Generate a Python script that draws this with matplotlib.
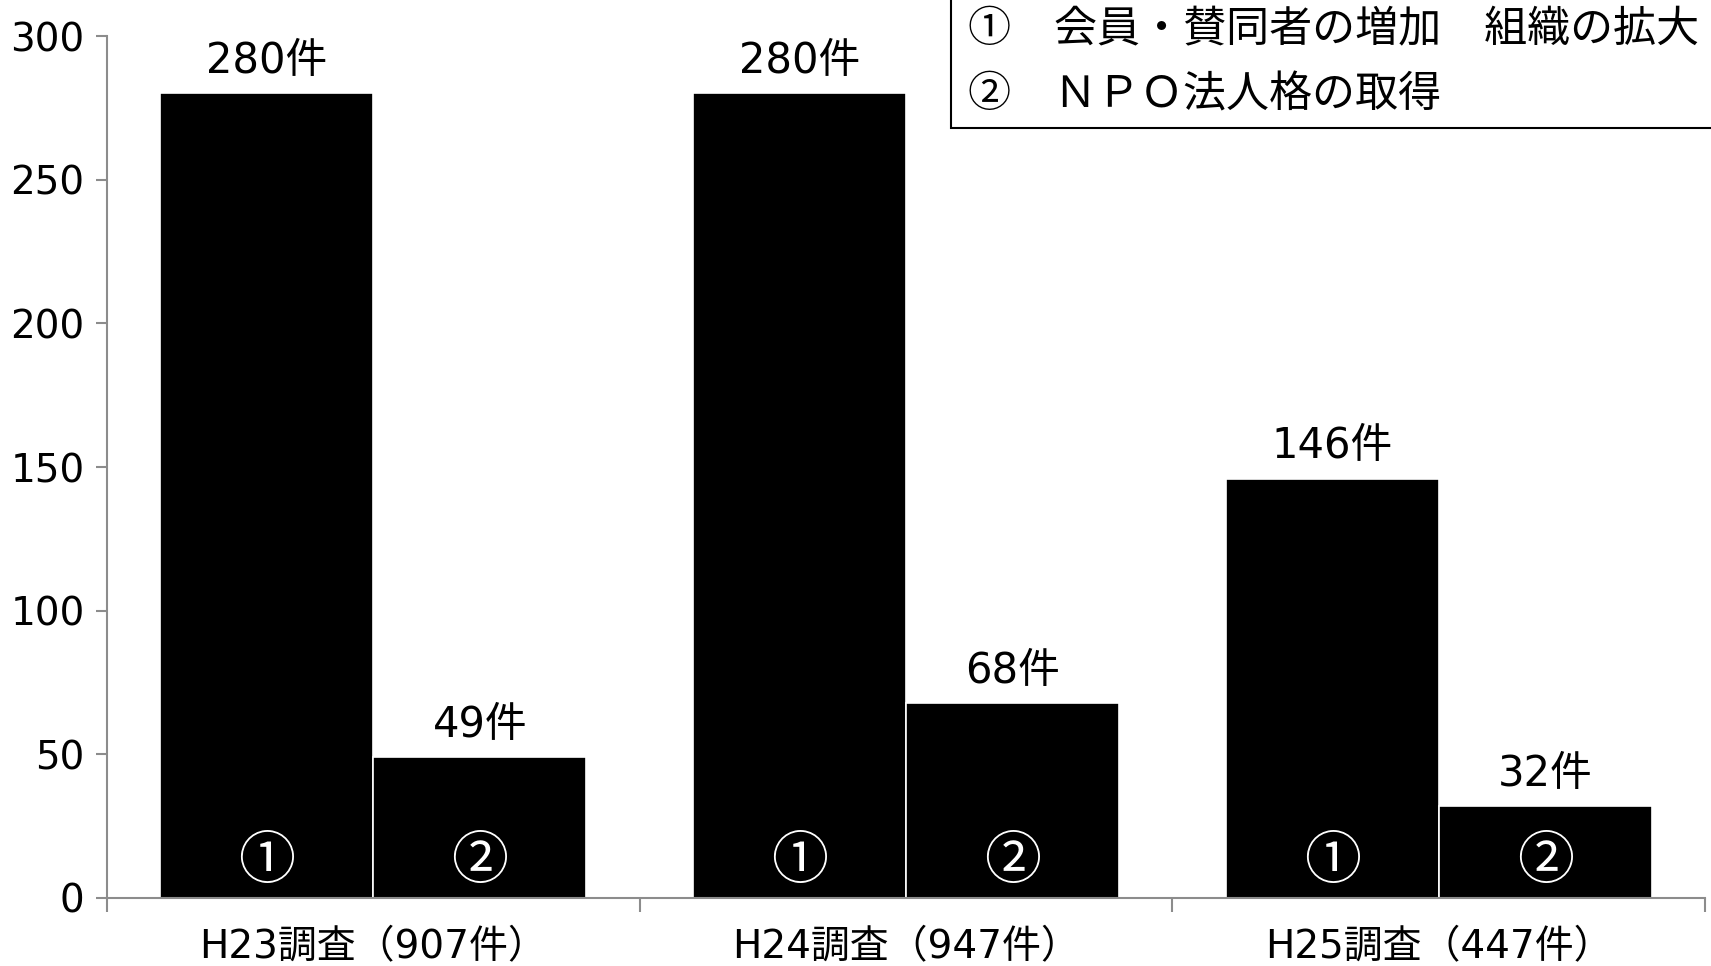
import matplotlib
matplotlib.use('Agg')
import matplotlib.pyplot as plt
from matplotlib.patches import Rectangle
import numpy as np

plt.rcParams['font.family'] = ['DejaVu Sans', 'Noto Sans CJK JP']

surveys = ['H23調査（907件）', 'H24調査（947件）', 'H25調査（447件）']
members_growth = [280, 280, 146]   # ① 会員・賛同者の増加 組織の拡大
npo_status = [49, 68, 32]          # ② ＮＰＯ法人格の取得
bar_marks = ['①', '②']
legend_lines = ['①　会員・賛同者の増加　組織の拡大', '②　ＮＰＯ法人格の取得']
y_ticks = [0, 50, 100, 150, 200, 250, 300]

axis_gray = '#8c8c8c'
cjk = ['Noto Sans CJK JP', 'DejaVu Sans']

fig = plt.figure(figsize=(17.11, 9.66), dpi=100)
ax = fig.add_axes([0.0625, 0.0704, 0.934, 0.8923])

x = np.arange(len(surveys))
w = 0.4
for offset, values, mark in [(-w / 2, members_growth, bar_marks[0]),
                             (w / 2, npo_status, bar_marks[1])]:
    bars = ax.bar(x + offset, values, width=w, color='black',
                  edgecolor='white', linewidth=1.2)
    for b, v in zip(bars, values):
        cx = b.get_x() + b.get_width() / 2
        ax.annotate(f'{v}件', (cx, v), xytext=(0, 8), textcoords='offset points',
                    ha='center', va='bottom', fontsize=30)
        ax.text(cx, 12.5, mark, ha='center', va='center', color='white',
                fontsize=41, family=cjk)

ax.set_xlim(-0.5, len(surveys) - 0.5)
ax.set_ylim(0, 300)
ax.set_yticks(y_ticks)
ax.tick_params(axis='y', labelsize=28, color=axis_gray, length=8, width=1.5, pad=8)

# group boundaries get the tick marks, group names sit between them
ax.set_xticks(np.arange(-0.5, len(surveys), 1.0))
ax.set_xticklabels([])
ax.set_xticks(x, minor=True)
ax.set_xticklabels(surveys, minor=True, fontsize=28)
ax.tick_params(axis='x', which='major', color=axis_gray, length=10, width=1.5)
ax.tick_params(axis='x', which='minor', length=0, pad=22)

for side in ['top', 'right']:
    ax.spines[side].set_visible(False)
for side in ['left', 'bottom']:
    ax.spines[side].set_color(axis_gray)
    ax.spines[side].set_linewidth(1.5)

# legend box at the top right
fig.patches.append(Rectangle((0.5558, 0.8675), 0.5, 0.2, transform=fig.transFigure,
                             facecolor='white', edgecolor='black', linewidth=1.5))
fig.text(0.566, 0.969, legend_lines[0], fontsize=31, va='center', ha='left', family=cjk)
fig.text(0.566, 0.9017, legend_lines[1], fontsize=31, va='center', ha='left', family=cjk)

fig.savefig('out.png', dpi=100)
